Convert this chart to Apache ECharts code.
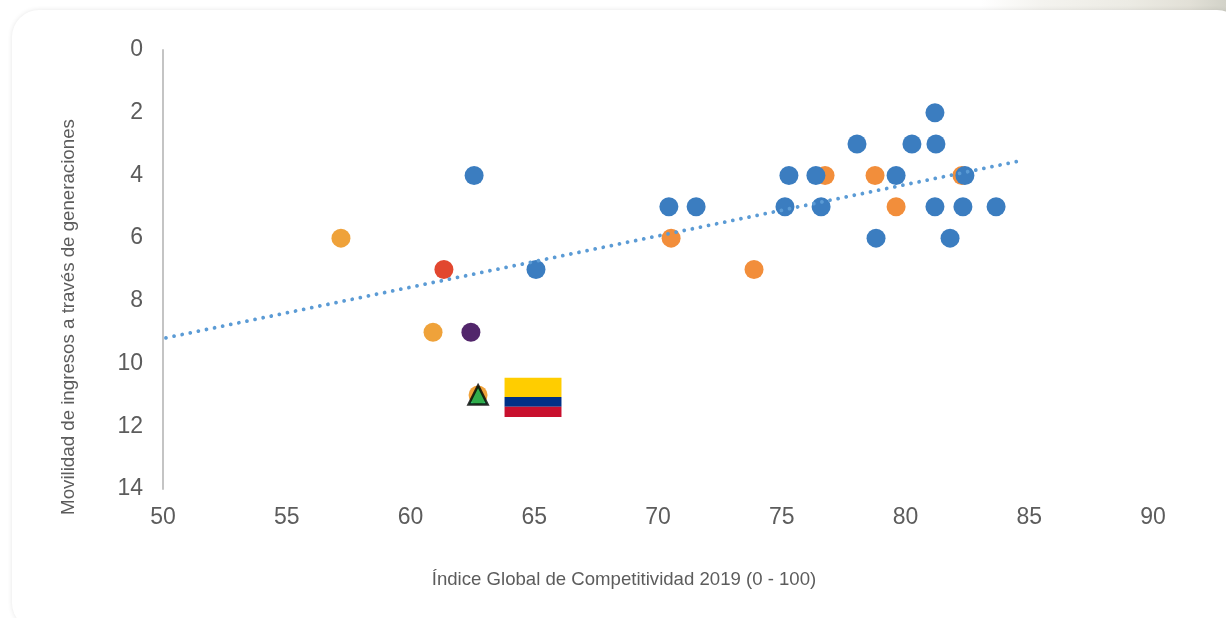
<!DOCTYPE html>
<html><head><meta charset="utf-8">
<style>
html,body{margin:0;padding:0;width:1226px;height:618px;overflow:hidden;background:#fff}
#strip{position:absolute;left:0;top:0;width:1226px;height:16px;background:linear-gradient(90deg,#fff 0%,#fff 80%,#f4f3ef 85%,#ecebe4 92%,#e2e0d7 97%,#d2d2c8 100%)}
#card{position:absolute;left:12px;top:10px;width:1232px;height:620px;background:#fff;border-radius:27px;box-shadow:0 0 5px rgba(0,0,0,.1)}
#c{position:absolute;left:0;top:0;width:1226px;height:618px}
</style></head><body>
<div id="strip"></div><div id="card"></div><div id="c"></div>
<script src="https://cdn.jsdelivr.net/npm/echarts@6/dist/echarts.min.js"></script>
<script>
const bluePoints=[[62.57,4],[65.07,7],[70.44,5],[71.54,5],[75.29,4],[75.13,5],[76.38,4],[76.59,5],[78.04,3],[78.81,6],[79.62,4],[80.26,3],[81.19,2],[81.23,3],[81.19,5],[81.8,6],[82.32,5],[82.4,4],[83.66,5]];
const orangePoints=[[76.75,4],[78.77,4],[79.62,5],[82.28,4],[73.88,7],[70.53,6]];
const amberPoints=[[57.19,6],[60.91,9],[62.73,11]];
const redPoints=[[61.35,7]];
const purplePoints=[[62.44,9]];
const colombiaPoint=[[62.73,11]];
const trendPoints=[[50.12,9.18],[84.48,3.56]];
const flagBands=[[63.8,66.1,10.45,11.07,'#FFCD00'],[63.8,66.1,11.07,11.38,'#003087'],[63.8,66.1,11.38,11.7,'#C8102E']];
const xTitle='Índice Global de Competitividad 2019 (0 - 100)';
const yTitle='Movilidad de ingresos a través de generaciones';
const font='"Liberation Sans", Arial, sans-serif';
const dots=(name,data,color,z)=>({name,type:'scatter',data,symbolSize:19,z,itemStyle:{color,opacity:1},emphasis:{disabled:true}});
const chart=echarts.init(document.getElementById('c'),null,{renderer:'canvas'});
chart.setOption({
  animation:false,backgroundColor:'transparent',
  grid:{left:163,top:50,width:990,height:439},
  xAxis:{type:'value',min:50,max:90,interval:5,position:'bottom',
    axisLine:{show:false,onZero:false},axisTick:{show:false},splitLine:{show:false},
    axisLabel:{fontFamily:font,fontSize:23,color:'#5c5c5c',margin:17},
    name:xTitle,nameLocation:'middle',nameGap:81,
    nameTextStyle:{fontFamily:font,fontSize:18.6,color:'#5c5c5c',padding:[0,68,0,0]}},
  yAxis:{type:'value',inverse:true,min:0,max:14,interval:2,
    axisLine:{show:true,onZero:false,lineStyle:{color:'#C4C4C4',width:2}},axisTick:{show:false},splitLine:{show:false},
    axisLabel:{fontFamily:font,fontSize:23,color:'#5c5c5c',margin:20,padding:[3,0,0,0]},
    name:yTitle,nameLocation:'middle',nameGap:85,nameRotate:90,
    nameTextStyle:{fontFamily:font,fontSize:18.7,color:'#5c5c5c',padding:[0,95,0,0]}},
  series:[
    dots('orange',orangePoints,'#F28E3B',2),
    dots('amber',amberPoints,'#EFA23A',2),
    dots('red',redPoints,'#E2472F',3),
    dots('purple',purplePoints,'#52266B',3),
    dots('blue',bluePoints,'#3B7DC0',4),
    {name:'trend',type:'line',data:trendPoints,showSymbol:false,symbol:'none',z:5,
     lineStyle:{color:'#5B9BD5',width:3.8,type:[0.01,8.26],cap:'round'},emphasis:{disabled:true}},
    {name:'Colombia',type:'scatter',data:colombiaPoint,symbol:'triangle',symbolSize:[19,19],z:6,
     itemStyle:{color:'#00B050',borderColor:'#000',borderWidth:2.5},emphasis:{disabled:true}},
    {name:'flag',type:'custom',z:6,data:flagBands,silent:true,
     encode:{x:[0,1],y:[2,3]},
     renderItem(p,api){
       const a=api.coord([api.value(0),api.value(2)]),b=api.coord([api.value(1),api.value(3)]);
       return {type:'rect',shape:{x:a[0],y:a[1],width:b[0]-a[0],height:b[1]-a[1]},style:{fill:flagBands[p.dataIndex][4]}};
     }}
  ]
});
</script></body></html>
